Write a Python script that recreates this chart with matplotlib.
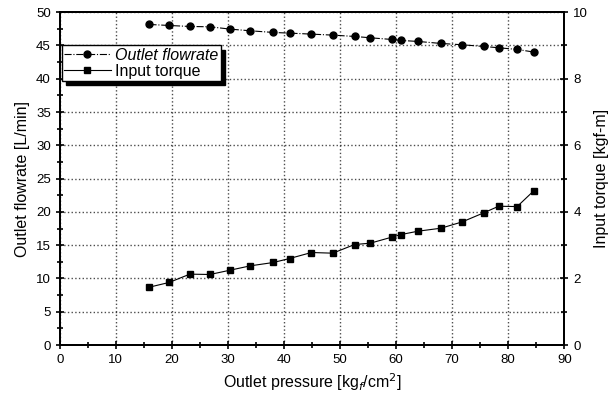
import numpy as np
import matplotlib
matplotlib.use('Agg')
import matplotlib.pyplot as plt
from matplotlib.ticker import MultipleLocator

plt.rcParams['font.family'] = ['Liberation Sans', 'DejaVu Sans']

# data
pressure = [16.0, 19.5, 23.2, 26.8, 30.4, 34.0, 38.1, 41.0, 44.9, 48.7, 52.6,
            55.4, 59.2, 60.9, 63.9, 68.0, 71.8, 75.6, 78.3, 81.6, 84.6]
flowrate = [48.15, 48.0, 47.85, 47.8, 47.45, 47.2, 46.95, 46.85, 46.7, 46.55, 46.35,
            46.15, 45.9, 45.75, 45.6, 45.3, 45.1, 44.85, 44.65, 44.4, 44.0]
torque = [1.74, 1.88, 2.13, 2.12, 2.25, 2.38, 2.48, 2.60, 2.78, 2.76, 3.02,
          3.06, 3.24, 3.32, 3.42, 3.51, 3.70, 3.97, 4.17, 4.16, 4.64]

fig = plt.figure(figsize=(6.1, 4.05), dpi=100)
ax = fig.add_axes([0.098, 0.148, 0.827, 0.822])
ax2 = ax.twinx()

l1, = ax.plot(pressure, flowrate, '-.', color='black', lw=0.8, marker='o', ms=5,
              label='Outlet flowrate')
l2, = ax2.plot(pressure, torque, '-', color='black', lw=0.8, marker='s', ms=5,
               label='Input torque')

ax.set_xlim(0, 90)
ax.set_ylim(0, 50)
ax2.set_ylim(0, 10)

ax.xaxis.set_major_locator(MultipleLocator(10))
ax.xaxis.set_minor_locator(MultipleLocator(5))
ax.yaxis.set_major_locator(MultipleLocator(5))
ax.yaxis.set_minor_locator(MultipleLocator(2.5))
ax2.yaxis.set_major_locator(MultipleLocator(2))
ax2.yaxis.set_minor_locator(MultipleLocator(1))

for a in (ax, ax2):
    a.tick_params(which='both', direction='inout', labelsize=9.5, width=1.2)
    a.tick_params(which='major', length=6)
    a.tick_params(which='minor', length=4)
    for s in a.spines.values():
        s.set_linewidth(1.4)
ax.tick_params(top=False, right=False)

# dotted grid on the main axes
ax.xaxis.grid(True, which='major', linestyle=':', color='black', lw=1.0, alpha=0.7)
ax.yaxis.grid(True, which='major', linestyle=':', color='black', lw=1.0, alpha=0.7)

ax.set_xlabel('Outlet pressure [kg$_f$/cm$^2$]', fontsize=11.5)
ax.set_ylabel('Outlet flowrate [L/min]', fontsize=11.5)
ax2.set_ylabel('Input torque [kgf-m]', fontsize=11.5)

leg = ax2.legend([l1, l2], ['Outlet flowrate', 'Input torque'], loc='upper left',
                 bbox_to_anchor=(0.004, 0.90), fancybox=False, edgecolor='black',
                 framealpha=1, fontsize=11.5, borderpad=0.15, labelspacing=0.05,
                 handlelength=2.9, handletextpad=0.3, borderaxespad=0,
                 shadow={'color': 'black', 'alpha': 1, 'ox': 3, 'oy': -3})
leg.get_frame().set_linewidth(1.0)
leg.get_texts()[0].set_style('italic')

fig.savefig('out.png', dpi=100)
